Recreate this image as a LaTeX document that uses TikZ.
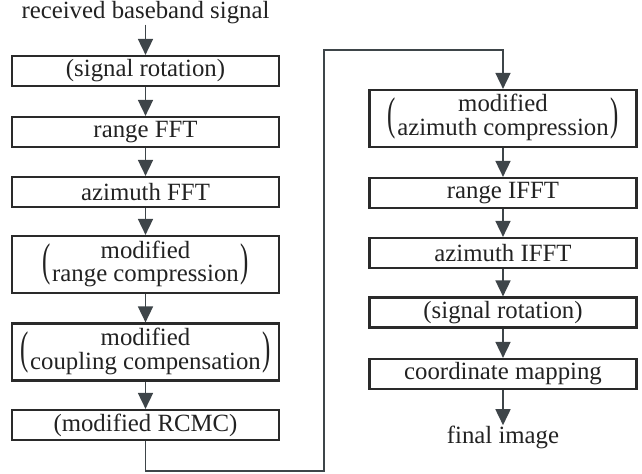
\documentclass[tikz,border=0pt]{standalone}
\usepackage{fontspec}
\usepackage{graphicx}
\setmainfont{Liberation Serif}
\usetikzlibrary{arrows.meta}
\definecolor{boxline}{HTML}{2A2A2A}
\definecolor{arrline}{HTML}{3E4549}
\definecolor{txt}{HTML}{222222}
\begin{document}
\begin{tikzpicture}[x=0.5pt,y=-0.5pt,
  font=\fontsize{12.4}{11.5}\selectfont,
  stepbox/.style={draw=boxline,line width=1.1pt,minimum width=133.5pt,minimum height=15pt,inner sep=0pt,text=txt},
  tallbox/.style={stepbox,minimum height=28.5pt},
  plain/.style={inner sep=0pt,text=txt},
  flow/.style={draw=arrline,line width=0.85pt,-{Triangle[width=7.5pt,length=8pt]}}]
\useasboundingbox (0,0) rectangle (642,473);
\newcommand{\bigparen}[1]{\vcenter{\hbox{\scalebox{1}[1.85]{#1}}}}
\newcommand{\twoline}[2]{$\bigparen{(}\kern0.8pt\begin{tabular}{@{}c@{}}#1\\#2\end{tabular}\kern0.8pt\bigparen{)}$}
% left column
\node[plain] (in) at (145.5,13) {received baseband signal};
\node[stepbox] (sr1) at (145.5,71) {(signal rotation)};
\node[stepbox] (rfft) at (145.5,132) {range FFT};
\node[stepbox] (afft) at (145.5,192) {azimuth FFT};
\node[tallbox] (rc) at (145.5,264.5) {\twoline{modified}{range compression}};
\node[tallbox] (cc) at (145.5,352) {\twoline{modified}{coupling compensation}};
\node[stepbox] (rcmc) at (145.5,425) {(modified RCMC)};
% right column
\node[tallbox] (ac) at (503,118.5) {\twoline{modified}{azimuth compression}};
\node[stepbox] (rifft) at (503,193) {range IFFT};
\node[stepbox] (aifft) at (503,253) {azimuth IFFT};
\node[stepbox] (sr2) at (503,312.5) {(signal rotation)};
\node[stepbox] (cm) at (503,374) {coordinate mapping};
\node[plain] (out) at (503,437) {final image};
% connectors
\coordinate (b1) at (145.5,471);
\coordinate (b2) at (324,471);
\coordinate (t1) at (324,50);
\coordinate (t2) at (503,50);
\draw[flow] (in) -- (sr1);
\draw[flow] (sr1) -- (rfft);
\draw[flow] (rfft) -- (afft);
\draw[flow] (afft) -- (rc);
\draw[flow] (rc) -- (cc);
\draw[flow] (cc) -- (rcmc);
\draw[flow] (rcmc.south) -- (b1) -- (b2) -- (t1) -- (t2) -- (ac.north);
\draw[flow] (ac) -- (rifft);
\draw[flow] (rifft) -- (aifft);
\draw[flow] (aifft) -- (sr2);
\draw[flow] (sr2) -- (cm);
\draw[flow] (cm) -- (out);
\end{tikzpicture}
\end{document}
